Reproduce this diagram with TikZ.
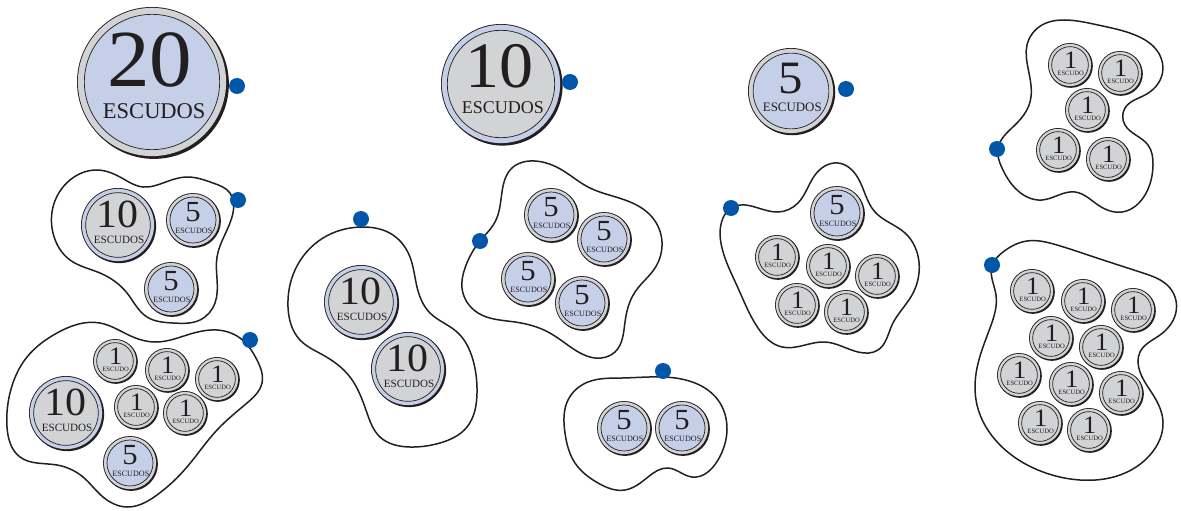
\documentclass[tikz,border=0pt]{standalone}
\usepackage{fontspec}
\usetikzlibrary{hobby}
\setmainfont{Liberation Serif}
\definecolor{cblue}{HTML}{C5CFE8}
\definecolor{cgray}{HTML}{D1D3D4}
\definecolor{ink}{HTML}{231F20}
\definecolor{dotc}{HTML}{0056A8}
% \coin{name}{x}{y}{r}{ring}{face}{value}{label}; \dgx \dgy \dgs tune the digits
\newcommand{\coin}[8]{%
  \pgfmathsetmacro{\cr}{#4}%
  \pgfmathsetmacro{\dfs}{\dgs*\cr}%
  \pgfmathsetmacro{\lfs}{0.30*\cr}%
  \pgfmathsetmacro{\sh}{0.02*\cr+0.4}%
  \fill[ink] (#2+\sh,#3+\sh) circle[radius=\cr];
  \fill[ink] (#2,#3) circle[radius=\cr];
  \fill[#5] (#2,#3) circle[radius=\cr-0.9];
  \draw[ink,line width=0.7pt,fill=#6] (#2,#3) circle[radius=\cr-2.1-0.07*\cr];
  \node[coindigit] (#1d) at (#2+\dgx*\cr,#3+\dgy*\cr) {\fontsize{\dfs}{\dfs}\selectfont\scalebox{1.05}[1]{#7}};
  \node[coindigit] (#1l) at (#2+0.03*\cr,#3+0.39*\cr) {\fontsize{\lfs}{\lfs}\selectfont #8};
}
\newcommand{\cXX}[3]{\def\dgx{-0.03}\def\dgy{-0.30}\def\dgs{1.08}\coin{#1}{#2}{#3}{75}{cgray}{cblue}{20}{ESCUDOS}}
\newcommand{\cX}[4][37]{\def\dgx{-0.02}\def\dgy{-0.29}\def\dgs{1.08}\coin{#2}{#3}{#4}{#1}{cblue}{cgray}{10}{ESCUDOS}}
\newcommand{\cV}[4][27]{\def\dgx{0}\def\dgy{-0.30}\def\dgs{1.08}\coin{#2}{#3}{#4}{#1}{cgray}{cblue}{5}{ESCUDOS}}
\newcommand{\cI}[3]{\def\dgx{0.03}\def\dgy{-0.22}\def\dgs{1.14}\coin{#1}{#2}{#3}{22}{cgray}{cgray}{1}{ESCUDO}}
\tikzset{
  blob/.style={draw=ink,line width=1.5pt,use Hobby shortcut,closed=true},
  coindigit/.style={inner sep=0pt,text=ink},
  pin/.style={circle,fill=dotc,minimum size=16pt,inner sep=0pt}
}
\begin{document}
\begin{tikzpicture}[x=1pt,y=-1pt]
\useasboundingbox (0,0) rectangle (1181,511);
% outlines
\draw[blob] (233,213)..(217,257)..(215,303)..(200,320)..(173,323)..(147,317)..(127,293)..(100,273)..(70,260)..(53,233)..(53,207)..(70,180)..(97,170)..(120,177)..(143,187)..(163,183)..(187,177)..(213,183)..(230,193);
\draw[blob] (100,323)..(133,337)..(157,342)..(187,335)..(217,330)..(240,338)..(257,360)..(262,383)..(247,403)..(217,430)..(187,467)..(157,495)..(127,507)..(103,497)..(83,477)..(57,465)..(20,457)..(7,427)..(10,393)..(27,357)..(57,333);
\draw[blob] (362,227)..(393,235)..(410,257)..(417,287)..(430,313)..(457,332)..(473,360)..(477,393)..(467,427)..(440,443)..(410,447)..(380,437)..(367,413)..(350,377)..(323,355)..(300,340)..(288,307)..(295,270)..(323,238);
\draw[blob] (480,241)..(495,222)..(502,192)..(512,168)..(535,161)..(562,170)..(588,187)..(625,200)..(652,217)..(662,242)..(655,268)..(635,292)..(625,322)..(615,352)..(595,358)..(572,348)..(548,332)..(515,322)..(478,313)..(462,288)..(465,268);
\draw[blob] (663,377)..(695,383)..(718,400)..(727,430)..(718,460)..(692,477)..(668,468)..(648,477)..(625,490)..(598,483)..(575,463)..(565,433)..(568,400)..(588,382)..(622,378);
\draw[blob] (731,208)..(778,212)..(798,203)..(815,175)..(838,163)..(858,178)..(875,212)..(905,233)..(919,262)..(912,295)..(892,325)..(878,350)..(858,352)..(825,342)..(782,347)..(758,328)..(738,288)..(722,248)..(723,218);
\draw[blob] (998,148)..(1015,125)..(1030,102)..(1028,68)..(1027,45)..(1042,25)..(1065,20)..(1098,25)..(1135,35)..(1158,52)..(1162,75)..(1145,95)..(1125,108)..(1125,125)..(1148,145)..(1153,165)..(1145,195)..(1122,212)..(1098,205)..(1075,192)..(1042,200)..(1015,188)..(1002,168);
\draw[blob] (992,266)..(1003,252)..(1027,241)..(1057,245)..(1097,258)..(1143,273)..(1170,288)..(1176,312)..(1160,335)..(1140,352)..(1140,372)..(1155,398)..(1163,422)..(1150,455)..(1120,475)..(1080,480)..(1043,472)..(1000,445)..(977,405)..(977,368)..(990,328)..(996,295);
% coins
\cXX{a}{152}{82}
\cX[60]{b}{501}{84}
\cV[43]{c}{791}{91}
\cX{d1}{118}{225} \cV{d2}{193}{220} \cV{d3}{171}{289}
\cX{e1}{66}{413} \cV{e2}{130}{463}
\cI{e3}{115}{361} \cI{e4}{167}{370} \cI{e5}{217}{379} \cI{e6}{136}{407} \cI{e7}{185}{413}
\cX{f1}{361}{302} \cX{f2}{408}{369}
\cV{g1}{551}{215} \cV{g2}{604}{239} \cV{g3}{528}{279} \cV{g4}{582}{303}
\cV{h1}{624}{428} \cV{h2}{682}{428}
\cV{i1}{837}{213}
\cI{i2}{777}{257} \cI{i3}{828}{266} \cI{i4}{877}{276} \cI{i5}{797}{305} \cI{i6}{846}{312}
\cI{j1}{1070}{65} \cI{j2}{1120}{73} \cI{j3}{1087}{110} \cI{j4}{1058}{150} \cI{j5}{1108}{159}
\cI{k1}{1032}{291} \cI{k2}{1083}{301} \cI{k3}{1133}{310} \cI{k4}{1051}{338} \cI{k5}{1101}{347}
\cI{k6}{1019}{375} \cI{k7}{1071}{384} \cI{k8}{1121}{393} \cI{k9}{1040}{423} \cI{k10}{1089}{430}
% dots
\node[pin] (p1) at (237,86) {};
\node[pin] (p2) at (570,82) {};
\node[pin] (p3) at (846,89) {};
\node[pin] (p4) at (238,200) {};
\node[pin] (p5) at (250,340) {};
\node[pin] (p6) at (361,219) {};
\node[pin] (p7) at (480,241) {};
\node[pin] (p8) at (663,371) {};
\node[pin] (p9) at (731,208) {};
\node[pin] (p10) at (997,149) {};
\node[pin] (p11) at (992,265) {};
\end{tikzpicture}
\end{document}
